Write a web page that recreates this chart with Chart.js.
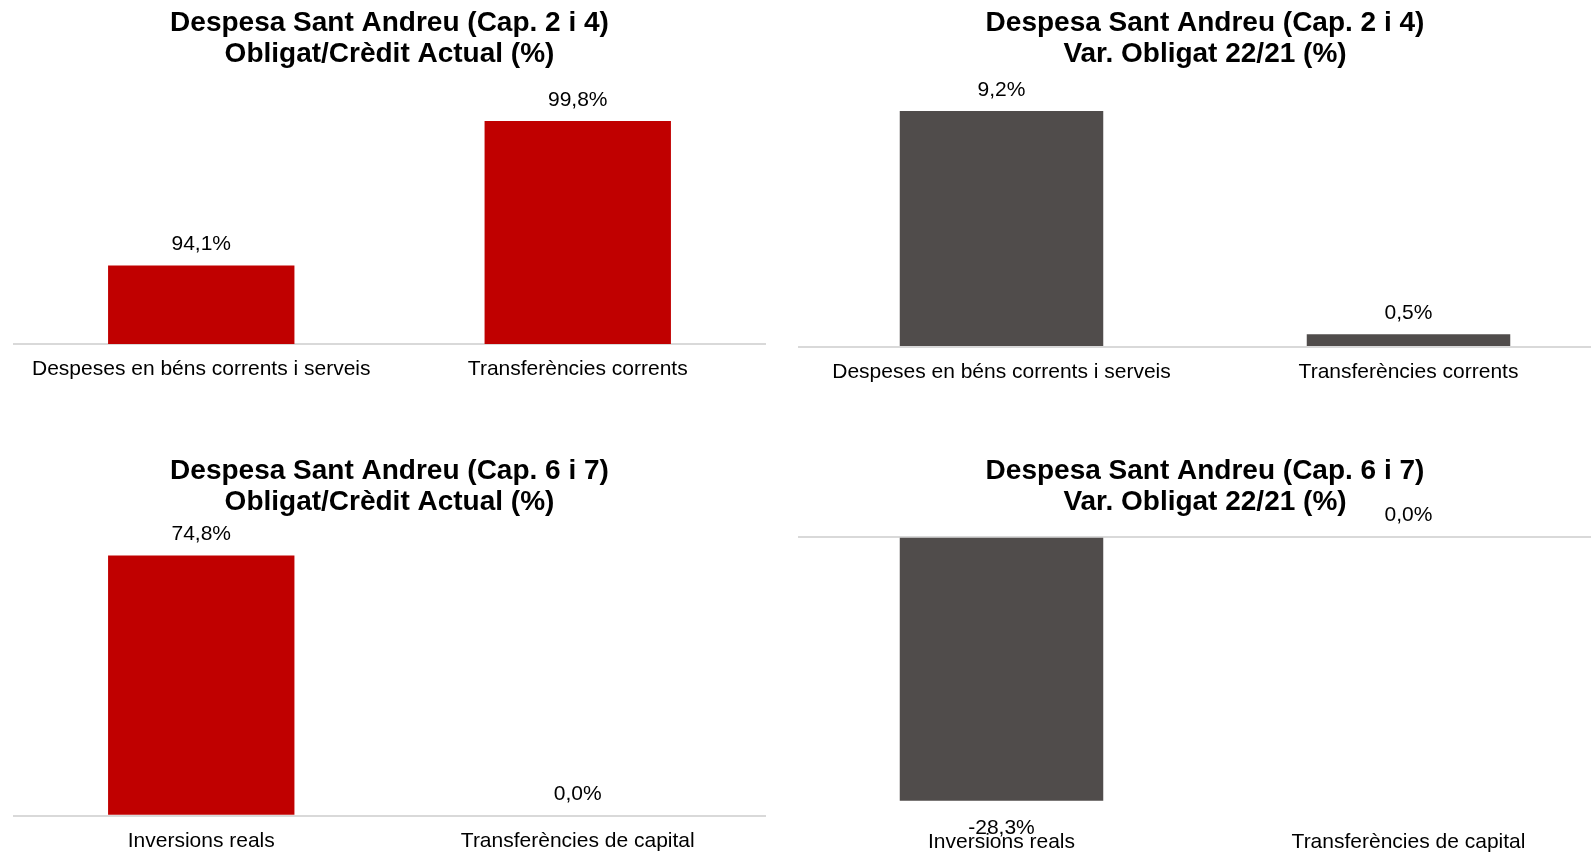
<!DOCTYPE html>
<html>
<head>
<meta charset="utf-8">
<script src="https://cdn.jsdelivr.net/npm/chart.js@4/dist/chart.umd.min.js"></script>
<style>
  html, body { margin: 0; padding: 0; background: #fff; width: 1591px; height: 853px; overflow: hidden; }
  .box { position: absolute; }
</style>
</head>
<body>
<div class="box" style="left:0px;top:0px;"><canvas id="c1" width="790" height="400"></canvas></div>
<div class="box" style="left:787px;top:0px;"><canvas id="c2" width="850" height="400"></canvas></div>
<div class="box" style="left:0px;top:430px;"><canvas id="c3" width="790" height="423"></canvas></div>
<div class="box" style="left:787px;top:430px;"><canvas id="c4" width="850" height="423"></canvas></div>
<script>
// ---- Data ----
const categoriesCap24 = ['Despeses en béns corrents i serveis', 'Transferències corrents'];
const categoriesCap67 = ['Inversions reals', 'Transferències de capital'];

const obligCreditCap24 = [94.1, 99.8];
const varObligCap24 = [9.2, 0.5];
const obligCreditCap67 = [74.8, 0.0];
const varObligCap67 = [-28.3, 0.0];

const titleCap24Oblig = ['Despesa Sant Andreu (Cap. 2 i 4)', 'Obligat/Crèdit Actual (%)'];
const titleCap24Var = ['Despesa Sant Andreu (Cap. 2 i 4)', 'Var. Obligat 22/21 (%)'];
const titleCap67Oblig = ['Despesa Sant Andreu (Cap. 6 i 7)', 'Obligat/Crèdit Actual (%)'];
const titleCap67Var = ['Despesa Sant Andreu (Cap. 6 i 7)', 'Var. Obligat 22/21 (%)'];

// ---- Helpers ----
const FONT = '"Liberation Sans", Arial, Helvetica, sans-serif';
const RED = '#C00000';
const GREY = '#504C4B';

function fmt(v) {
  return v.toFixed(1).replace('.', ',') + '%';
}

const valueLabels = {
  id: 'valueLabels',
  afterDatasetsDraw(chart) {
    const ctx = chart.ctx;
    const meta = chart.getDatasetMeta(0);
    const data = chart.data.datasets[0].data;
    ctx.save();
    ctx.font = '21px ' + FONT;
    ctx.fillStyle = '#000';
    ctx.textAlign = 'center';
    ctx.textBaseline = 'middle';
    meta.data.forEach((bar, i) => {
      const v = data[i];
      const y = v < 0 ? bar.y + 27 : bar.y - 21;
      ctx.fillText(fmt(v), bar.x, y);
    });
    ctx.restore();
  }
};

function makeChart(id, opts) {
  return new Chart(document.getElementById(id), {
    type: 'bar',
    data: {
      labels: opts.labels,
      datasets: [{
        data: opts.values,
        backgroundColor: opts.color,
        borderWidth: 0,
        categoryPercentage: 1,
        barPercentage: opts.barPct
      }]
    },
    options: {
      responsive: false,
      animation: false,
      devicePixelRatio: 1,
      layout: { padding: opts.padding },
      plugins: {
        legend: { display: false },
        tooltip: { enabled: false },
        title: {
          display: true,
          text: opts.title,
          color: '#000',
          font: { family: FONT, size: 28, weight: 'bold', lineHeight: 1.125 },
          padding: opts.titlePad
        }
      },
      scales: {
        x: {
          grid: { display: false, drawTicks: false },
          border: { display: false },
          ticks: {
            color: '#000',
            padding: 13,
            maxRotation: 0,
            autoSkip: false,
            font: { family: FONT, size: 21, lineHeight: 1.2 }
          },
          afterFit: s => { s.height = 36; }
        },
        y: {
          min: opts.min,
          max: opts.max,
          ticks: { display: false, stepSize: opts.step },
          border: { display: false },
          grid: {
            drawTicks: false,
            lineWidth: 2,
            color: c => (c.tick && Math.abs(c.tick.value - opts.baseline) < 1e-9) ? '#D9D9D9' : 'rgba(0,0,0,0)'
          },
          afterFit: s => { s.width = 0; }
        }
      }
    },
    plugins: [valueLabels]
  });
}

makeChart('c1', {
  labels: categoriesCap24, values: obligCreditCap24, color: RED, barPct: 0.495,
  title: titleCap24Oblig, min: 91, max: 100, step: 1, baseline: 91,
  padding: { left: 13, right: 24, top: 0, bottom: 20 },
  titlePad: { top: 7.5, bottom: 45.5 }
});

makeChart('c2', {
  labels: categoriesCap24, values: varObligCap24, color: GREY, barPct: 0.5,
  title: titleCap24Var, min: 0, max: 10, step: 1, baseline: 0,
  padding: { left: 11, right: 25, top: 0, bottom: 17 },
  titlePad: { top: 7.5, bottom: 20 }
});

makeChart('c3', {
  labels: categoriesCap67, values: obligCreditCap67, color: RED, barPct: 0.495,
  title: titleCap67Oblig, min: 0, max: 80, step: 10, baseline: 0,
  padding: { left: 13, right: 24, top: 0, bottom: 1.3 },
  titlePad: { top: 25.2, bottom: 19.1 }
});

makeChart('c4', {
  labels: categoriesCap67, values: varObligCap67, color: GREY, barPct: 0.5,
  title: titleCap67Var, min: -30, max: 0, step: 5, baseline: 0,
  padding: { left: 11, right: 25, top: 0, bottom: 0.3 },
  titlePad: { top: 25.2, bottom: 18.5 }
});
</script>
</body>
</html>
